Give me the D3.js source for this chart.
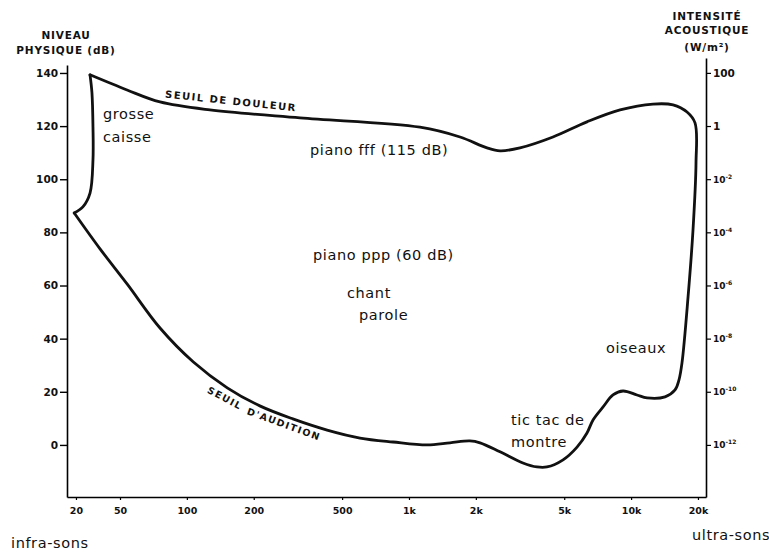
<!DOCTYPE html>
<html lang="fr">
<head>
<meta charset="utf-8">
<script src="https://cdn.jsdelivr.net/npm/d3@7"></script>
<style>
  html, body { margin: 0; padding: 0; background: #fff; }
  svg { display: block; }
  .tech { font-family: "DejaVu Sans", sans-serif; font-weight: bold; fill: #111; }
  .main { font-family: "DejaVu Sans", "Noto Sans", sans-serif; fill: #111; }
</style>
</head>
<body>
<svg id="chart" width="769" height="554"></svg>
<script>
// Axes: frequency (Hz) along the bottom, level (dB) on the left, intensity (W/m²) on the right
const frequenceTicks = [20, 50, 100, 200, 500, 1000, 2000, 5000, 10000, 20000];
const frequenceLabels = ["20", "50", "100", "200", "500", "1k", "2k", "5k", "10k", "20k"];
const niveauTicks = [0, 20, 40, 60, 80, 100, 120, 140];
const intensiteTicks = [100, 1, 1e-2, 1e-4, 1e-6, 1e-8, 1e-10, 1e-12];
const intensiteBase = ["100", "1", "10", "10", "10", "10", "10", "10"];
const intensiteExposant = ["", "", "-2", "-4", "-6", "-8", "-10", "-12"];

// Low-frequency edge of the audible area (Hz, dB), from the bottom corner up to the peak
const graveHz = [19.3, 23.1, 26.8, 28.5, 28.5, 27.9, 26.8];
const graveDb = [87.3, 89.6, 94.8, 107.3, 119.7, 132.5, 139.3];

// Rest of the outline: pain threshold, high-frequency edge, hearing threshold
const contourHz = [26.8, 53.8, 75.7, 127, 323, 1121, 1698, 2246, 2570, 3160, 4450, 6330, 8920,
  12550, 15450, 17860, 19400, 19600, 19000, 18050, 16950, 16430, 15770, 14220, 11800, 10630,
  9200, 8290, 7480, 6740, 6330, 5710, 4940, 4180, 3770, 3260, 2570, 2090, 1880, 1530, 1206,
  848, 602, 428, 300, 213, 152, 107, 75.7, 53.8, 33.0, 19.3];
const contourDb = [139.3, 133.6, 129.1, 126.1, 123.1, 119.6, 115.9, 111.8, 110.7, 111.8, 115.9,
  121.6, 126.1, 128.3, 128.0, 125.3, 121.2, 106.1, 80.9, 55.7, 30.9, 24.5, 20.7, 18.1, 17.7,
  18.8, 20.3, 18.8, 14.3, 9.4, 4.5, -0.8, -5.6, -8.3, -8.3, -6.8, -2.6, 0.8, 1.5, 0.8, 0,
  1.1, 2.6, 5.6, 9.8, 14.7, 21.5, 31.2, 44.0, 60.6, 73.8, 87.3];

const svg = d3.select("#chart");

// The hand-drawn frequency axis is compressed between 20 and 50 Hz
const x = d3.scaleLog().domain([16.6, 50, 21740]).range([67, 120, 706]);
const y = d3.scaleLinear().domain([-19.6, 143]).range([497, 65]);
const yI = d3.scaleLog()
  .domain([1e-12 * Math.pow(10, -19.6 / 10), 1e-12 * Math.pow(10, 145.6 / 10)])
  .range([497, 58]);

// Left axis
const gL = svg.append("g").attr("transform", "translate(67,0)")
  .call(d3.axisLeft(y).tickValues(niveauTicks).tickSize(7).tickSizeOuter(0).tickPadding(2));
gL.select(".domain").attr("stroke-width", 1.6);
gL.selectAll(".tick line").attr("stroke-width", 1.4);
gL.selectAll("text").attr("class", "tech").attr("font-size", 10.5).attr("font-family", null);

// Right axis
const gR = svg.append("g").attr("transform", "translate(706,0)")
  .call(d3.axisRight(yI).tickValues(intensiteTicks).tickSize(5).tickSizeOuter(0).tickPadding(2).tickFormat(() => ""));
gR.select(".domain").attr("stroke-width", 1.6);
gR.selectAll(".tick line").attr("stroke-width", 1.2);
gR.selectAll(".tick text").each(function(d, i) {
  const t = d3.select(this).attr("class", "tech").attr("font-family", null).attr("font-size", i < 2 ? 10.5 : 9);
  t.append("tspan").text(intensiteBase[i]);
  if (intensiteExposant[i]) {
    t.append("tspan").attr("font-size", 6).attr("dy", -4).text(intensiteExposant[i]);
  }
});

// Bottom axis
const gB = svg.append("g").attr("transform", "translate(0,497)")
  .call(d3.axisBottom(x).tickValues(frequenceTicks).tickSize(3).tickSizeOuter(0).tickPadding(7)
    .tickFormat((d, i) => frequenceLabels[i]));
gB.select(".domain").attr("stroke-width", 1.6);
gB.selectAll(".tick line").attr("stroke-width", 1.2);
gB.selectAll("text").attr("class", "tech").attr("font-size", 9.5).attr("font-family", null);

// Axis titles
const titre = (lines, cx, ys, size) => lines.forEach((s, i) =>
  svg.append("text").attr("class", "tech").attr("x", cx).attr("y", ys[i])
    .attr("text-anchor", "middle").attr("dominant-baseline", "central")
    .attr("font-size", size).attr("letter-spacing", 0.8).text(s));
titre(["NIVEAU", "PHYSIQUE (dB)"], 66, [35, 50], 10.5);
titre(["INTENSITÉ", "ACOUSTIQUE", "(W/m²)"], 707, [16, 30, 47], 10.5);

// Outline of the audible area
const line = d3.line()
  .x(d => x(d[0])).y(d => y(d[1]))
  .curve(d3.curveCatmullRom.alpha(0.5));
const grave = graveHz.map((f, i) => [f, graveDb[i]]);
const contour = contourHz.map((f, i) => [f, contourDb[i]]);
[grave, contour].forEach(pts =>
  svg.append("path").attr("d", line(pts)).attr("fill", "none")
    .attr("stroke", "#111").attr("stroke-width", 2.8)
    .attr("stroke-linejoin", "round").attr("stroke-linecap", "round"));

// Threshold names written along the outline
const incline = (s, cx, cy, angle, size) =>
  svg.append("text").attr("class", "tech").attr("font-size", size)
    .attr("text-anchor", "middle").attr("dominant-baseline", "central")
    .attr("letter-spacing", 1.5)
    .attr("transform", `translate(${cx},${cy}) rotate(${angle})`).text(s);
incline("SEUIL DE DOULEUR", 231, 101, 6, 10);
incline("SEUIL", 225, 398, 28, 9.5);
incline("D'AUDITION", 284, 424, 20, 9.5);

// Sound source annotations
const notes = [
  ["grosse", 103, 114], ["caisse", 103, 137],
  ["piano fff (115 dB)", 310, 150], ["piano ppp (60 dB)", 313, 255],
  ["chant", 347, 293], ["parole", 359, 315],
  ["oiseaux", 606, 348], ["tic tac de", 511, 420], ["montre", 511, 442],
  ["infra-sons", 11, 543], ["ultra-sons", 692, 535]
];
notes.forEach(([s, nx, ny]) =>
  svg.append("text").attr("class", "main").attr("x", nx).attr("y", ny)
    .attr("dominant-baseline", "central").attr("font-size", 14.5)
    .attr("letter-spacing", 0.6).text(s));
</script>
</body>
</html>
